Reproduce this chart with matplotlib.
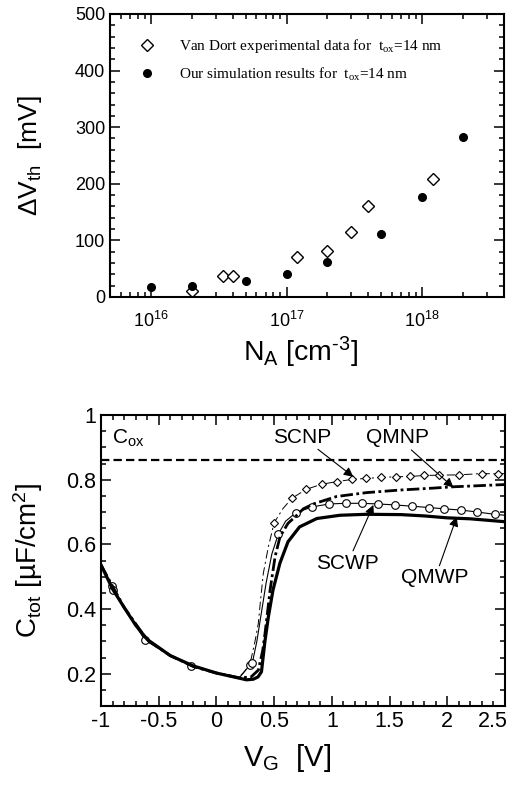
import numpy as np
import matplotlib
matplotlib.use('Agg')
import matplotlib.pyplot as plt
import matplotlib.transforms as mtransforms
from matplotlib.ticker import MultipleLocator, FormatStrFormatter, LogLocator, NullFormatter

# ---- top panel: threshold voltage shift vs doping
NA_exp    = [2e16, 3.4e16, 4e16, 1.2e17, 2e17, 3e17, 4e17, 1.2e18]
dVth_exp  = [10, 37, 37, 70, 82, 115, 160, 209]
NA_sim    = [1e16, 2e16, 5e16, 1e17, 2e17, 5e17, 1e18, 2e18]
dVth_sim  = [17, 20, 28, 41, 62, 112, 177, 283]

# ---- bottom panel: C-V curves
V_qmwp = [-1.0, -0.9, -0.8, -0.7, -0.6, -0.4, -0.2, 0.0, 0.2, 0.26, 0.32, 0.36, 0.39, 0.42,
          0.45, 0.49, 0.55, 0.62, 0.72, 0.87, 1.07, 1.3, 1.6, 1.8, 2.0, 2.2, 2.5]
C_qmwp = [0.536, 0.462, 0.405, 0.35, 0.306, 0.256, 0.224, 0.202, 0.186, 0.181, 0.183, 0.19,
          0.206, 0.30, 0.376, 0.459, 0.542, 0.608, 0.654, 0.68, 0.69, 0.693, 0.692, 0.688,
          0.682, 0.679, 0.670]

V_qmnp = [-1.0, -0.8, -0.6, -0.4, -0.2, 0.0, 0.2, 0.3, 0.363, 0.40, 0.421, 0.465, 0.508,
          0.551, 0.62, 0.696, 0.753, 0.84, 1.04, 1.3, 1.59, 1.88, 2.05, 2.5]
C_qmnp = [0.536, 0.405, 0.304, 0.256, 0.222, 0.202, 0.187, 0.19, 0.211, 0.27, 0.325, 0.459,
          0.562, 0.624, 0.665, 0.69, 0.71, 0.725, 0.748, 0.76, 0.768, 0.774, 0.778, 0.785]

V_scwp = [-1.0, -0.905, -0.895, -0.8, -0.62, -0.4, -0.22, 0.0, 0.2, 0.29, 0.31, 0.35, 0.39,
          0.43, 0.48, 0.536, 0.6, 0.689, 0.831, 0.978, 1.122, 1.258, 1.397, 1.547, 1.69,
          1.84, 1.97, 2.12, 2.26, 2.41, 2.5]
C_scwp = [0.536, 0.472, 0.458, 0.405, 0.304, 0.256, 0.224, 0.202, 0.188, 0.227, 0.232, 0.30,
          0.39, 0.48, 0.57, 0.632, 0.672, 0.698, 0.716, 0.725, 0.727, 0.727, 0.725, 0.722,
          0.718, 0.714, 0.710, 0.706, 0.700, 0.693, 0.690]
mk_scwp = [1, 2, 4, 6, 9, 10, 15] + list(range(17, 30))

V_scnp = [-1.0, -0.8, -0.6, -0.4, -0.2, 0.0, 0.2, 0.25, 0.3, 0.334, 0.363, 0.38, 0.406, 0.45,
          0.5, 0.575, 0.652, 0.776, 0.912, 1.042, 1.177, 1.30, 1.426, 1.553, 1.677, 1.80,
          1.928, 2.10, 2.30, 2.44, 2.5]
C_scnp = [0.536, 0.405, 0.302, 0.256, 0.222, 0.202, 0.19, 0.21, 0.245, 0.30, 0.356, 0.42,
          0.51, 0.593, 0.667, 0.71, 0.742, 0.770, 0.786, 0.794, 0.801, 0.804, 0.807, 0.809,
          0.810, 0.813, 0.814, 0.815, 0.819, 0.818, 0.819]
mk_scnp = [14] + list(range(16, 30))

C_ox = 0.86

plt.rcParams['font.family'] = ['Liberation Sans', 'DejaVu Sans']
plt.rcParams['mathtext.fontset'] = 'custom'
plt.rcParams['mathtext.rm'] = 'Liberation Sans'
plt.rcParams['mathtext.it'] = 'Liberation Sans:italic'
plt.rcParams['mathtext.bf'] = 'Liberation Sans:bold'
plt.rcParams['mathtext.sf'] = 'Liberation Serif'
plt.rcParams['lines.scale_dashes'] = False

fig = plt.figure(figsize=(5.17, 7.85), dpi=100)

def style(ax, fs):
    for s in ax.spines.values():
        s.set_linewidth(1.5)
    ax.tick_params(which='both', direction='in', top=True, right=True, labelsize=fs, width=1.1)
    ax.tick_params(which='major', length=7)
    ax.tick_params(which='minor', length=3.5)

# top
ax1 = fig.add_axes([0.2128, 0.6217, 0.762, 0.3605])
ax1.plot(NA_exp, dVth_exp, 'D', mfc='white', mec='black', mew=1.0, ms=6,
         label='Van Dort experimental data for  t$_{\\mathsf{ox}}$=14 nm')
ax1.plot(NA_sim, dVth_sim, 'o', mfc='black', mec='black', ms=5.5,
         label='Our simulation results for  t$_{\\mathsf{ox}}$=14 nm')
ax1.set_xscale('log')
ax1.set_xlim(5e15, 4e18)
ax1.set_ylim(0, 500)
ax1.yaxis.set_major_locator(MultipleLocator(100))
ax1.yaxis.set_minor_locator(MultipleLocator(20))
ax1.xaxis.set_minor_locator(LogLocator(base=10.0, subs=np.arange(2, 10), numticks=12))
ax1.xaxis.set_minor_formatter(NullFormatter())
style(ax1, 13)
ax1.tick_params(axis='x', which='major', pad=10)
ax1.set_xlabel('N$_{\\rm A}$ [cm$^{\\text{-3}}$]', fontsize=20.5)
ax1.xaxis.set_label_coords(0.485, -0.135)
ax1.set_ylabel('$\\Delta$V$_{\\rm th}$  [mV]', fontsize=19, labelpad=22)
ax1.legend(loc='upper left', bbox_to_anchor=(0.055, 0.945), frameon=False,
           prop={'family': 'Liberation Serif', 'size': 11}, handletextpad=1.6,
           labelspacing=0.65, borderpad=0, handlelength=1.0)

# bottom
ax2 = fig.add_axes([0.1954, 0.1006, 0.7814, 0.3707])
ax2.axhline(C_ox, color='black', lw=1.6, dashes=(6, 3))
ax2.plot(V_scnp, C_scnp, color='black', lw=0.7, dashes=(6, 2.5, 1.5, 2.5),
         marker='D', ms=4, mfc='white', mec='black', mew=0.8, markevery=mk_scnp)
ax2.plot(V_scwp, C_scwp, color='black', lw=0.8,
         marker='o', ms=5.5, mfc='white', mec='black', mew=0.8, markevery=mk_scwp)
ax2.plot(V_qmnp, C_qmnp, color='black', lw=2.0, dashes=(9, 2.5, 2, 2.5))
ax2.plot(V_qmwp, C_qmwp, color='black', lw=2.3)
ax2.set_xlim(-1, 2.5)
ax2.set_ylim(0.1, 1.0)
ax2.xaxis.set_major_locator(MultipleLocator(0.5))
ax2.xaxis.set_minor_locator(MultipleLocator(0.1))
ax2.yaxis.set_major_locator(MultipleLocator(0.2))
ax2.yaxis.set_minor_locator(MultipleLocator(0.05))
ax2.xaxis.set_major_formatter(FormatStrFormatter('%g'))
ax2.yaxis.set_major_formatter(FormatStrFormatter('%g'))
style(ax2, 15.5)
ax2.set_xlabel('V$_{\\rm G}$  [V]', fontsize=21)
ax2.xaxis.set_label_coords(0.46, -0.125)
ax2.set_ylabel('C$_{\\rm tot}$ [µF/cm$^{2}$]', fontsize=20, labelpad=15)

ax2.text(-0.905, 0.91, 'C$_{\\rm ox}$', fontsize=15, ha='left', va='baseline')
arw = dict(arrowstyle='-|>', color='black', lw=0.8, mutation_scale=14, shrinkA=0, shrinkB=0)
ax2.annotate('SCNP', xy=(1.186, 0.809), xytext=(0.742, 0.932), fontsize=15,
             ha='center', va='center', arrowprops=arw)
ax2.annotate('QMNP', xy=(2.053, 0.776), xytext=(1.569, 0.930), fontsize=15,
             ha='center', va='center', arrowprops=arw)
ax2.annotate('SCWP', xy=(1.36, 0.722), xytext=(1.136, 0.542), fontsize=15,
             ha='center', va='center', arrowprops=arw)
ax2.annotate('QMWP', xy=(2.082, 0.685), xytext=(1.894, 0.496), fontsize=15,
             ha='center', va='center', arrowprops=arw)

# pull the "2.5" tick label inside the figure, as in the original
fig.canvas.draw()
shift = mtransforms.ScaledTranslation(-9 / 72, 0, fig.dpi_scale_trans)
for tick in ax2.xaxis.get_major_ticks():
    if abs(tick.get_loc() - 2.5) < 1e-6:
        tick.label1.set_transform(tick.label1.get_transform() + shift)

fig.savefig('out.png', dpi=100)
